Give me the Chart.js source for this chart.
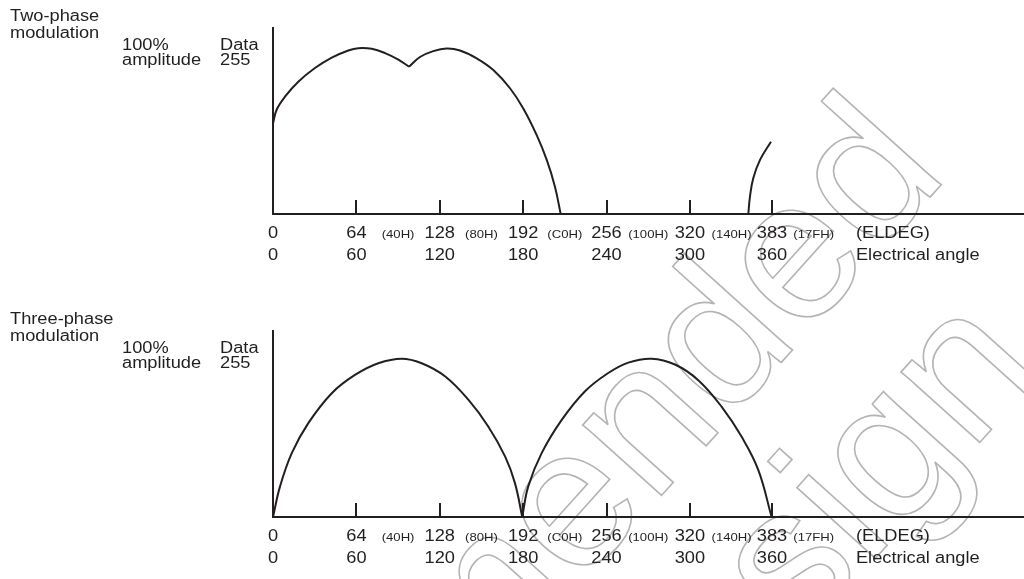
<!DOCTYPE html>
<html>
<head>
<meta charset="utf-8">
<script src="https://cdn.jsdelivr.net/npm/chart.js@4.4.0/dist/chart.umd.min.js"></script>
<style>
    body { margin: 0; background: #fff; overflow: hidden; }
    canvas { position: absolute; left: 0; }
</style>
</head>
<body>
<canvas id="two-phase" width="1024" height="290" style="top:0"></canvas>
<canvas id="three-phase" width="1024" height="289" style="top:290px"></canvas>
<script>
// ELDEG axis
var tickValues = [0, 64, 128, 192, 256, 320, 383];
var tickLabels = ['0', '64', '128', '192', '256', '320', '383'];
var hexValues = [96, 160, 224, 288, 352, 415];
var hexLabels = ['(40H)', '(80H)', '(C0H)', '(100H)', '(140H)', '(17FH)'];
var degreeLabels = ['0', '60', '120', '180', '240', '300', '360'];

// Two-phase modulation (data 0..255)
var twoRiseX = [0, 2.8, 9.2, 19.4, 32.2, 45.1, 57.8, 65.5, 75.8, 86, 96.2, 104.4];
var twoRiseY = [139, 160, 180, 203, 224, 240, 251, 254.5, 253.5, 247, 237, 226];
var twoFallX = [104.4, 112.8, 123, 133.3, 143.5, 156.3, 169.1, 181.9, 192.1, 202.4, 210.1, 216.4, 220.8];
var twoFallY = [226, 241, 250, 254, 251, 239, 221, 193, 162, 121, 83, 42, 0];
var twoTailX = [364.8, 366.1, 368.6, 373.8, 382.2];
var twoTailY = [0, 27, 55, 83, 111];

// Three-phase modulation
var threeArch1X = [0, 5.4, 14.4, 27.1, 45.1, 62.9, 80.8, 98.8, 114.1, 132, 149.9, 165.2, 178.1, 185.7, 191.3];
var threeArch1Y = [0, 47, 98, 144, 190, 218, 236, 243, 236, 216, 180, 139, 93, 52, 0];
var threeArch2X = [191.3, 195.9, 206.2, 221.6, 239.5, 257.3, 272.7, 290.6, 308.5, 326.4, 344.4, 359.7, 372.5, 382.7];
var threeArch2Y = [0, 47, 98, 149, 193, 221, 237, 243, 234, 210, 169, 123, 72, 0];

var INK = '#231f20';
var FONT = '"Liberation Sans", Arial, Helvetica, sans-serif';

function points(xs, ys) {
    return xs.map(function (x, i) { return { x: x, y: ys[i] }; });
}

function curve(xs, ys) {
    return {
        data: points(xs, ys),
        borderColor: INK,
        borderWidth: 2,
        pointRadius: 0,
        fill: false,
        tension: 0.4
    };
}

// the original lettering is a bit wider than Liberation Sans
function text(ctx, str, x, y, size, align) {
    ctx.save();
    ctx.font = size + 'px ' + FONT;
    ctx.fillStyle = INK;
    ctx.textAlign = align || 'left';
    ctx.textBaseline = 'alphabetic';
    ctx.translate(x, y);
    ctx.scale(1.14, 1);
    ctx.fillText(str, 0, 0);
    ctx.restore();
}

var watermark = {
    id: 'watermark',
    beforeDraw: function (chart, args, opts) {
        var ctx = chart.ctx;
        ctx.save();
        ctx.translate(0, -opts.offsetY);
        ctx.strokeStyle = '#b4b4b4';
        ctx.lineWidth = 1.6;
        ctx.font = '200px ' + FONT;
        ctx.textAlign = 'right';
        ctx.save();
        ctx.translate(950, 175);
        ctx.rotate(-48 * Math.PI / 180);
        ctx.strokeText('Not Recommended', 0, 0);
        ctx.restore();
        ctx.save();
        ctx.translate(1045, 370);
        ctx.rotate(-48 * Math.PI / 180);
        ctx.strokeText('for New Design', 0, 0);
        ctx.restore();
        ctx.restore();
    }
};

var axes = {
    id: 'axes',
    afterDraw: function (chart, args, opts) {
        var ctx = chart.ctx;
        var xs = chart.scales.x;
        var area = chart.chartArea;
        var x0 = xs.getPixelForValue(0);
        var base = area.bottom;

        ctx.save();
        ctx.strokeStyle = INK;
        ctx.lineWidth = 2;
        ctx.beginPath();
        ctx.moveTo(x0, area.top);
        ctx.lineTo(x0, base);
        ctx.lineTo(chart.width, base);
        ctx.stroke();

        ctx.beginPath();
        tickValues.forEach(function (v) {
            if (v === 0) return;
            var px = Math.round(xs.getPixelForValue(v));
            ctx.moveTo(px, base - 14);
            ctx.lineTo(px, base);
        });
        ctx.stroke();
        ctx.restore();

        tickValues.forEach(function (v, i) {
            var px = xs.getPixelForValue(v);
            text(ctx, tickLabels[i], px, base + 24, 16, 'center');
            text(ctx, degreeLabels[i], px, base + 46, 16, 'center');
        });
        hexValues.forEach(function (v, i) {
            text(ctx, hexLabels[i], xs.getPixelForValue(v), base + 24, 11.5, 'center');
        });
        var lx = xs.getPixelForValue(447.4);
        text(ctx, '(ELDEG)', lx, base + 24, 16, 'left');
        text(ctx, 'Electrical angle', lx, base + 46, 16, 'left');

        var top = area.top;
        text(ctx, opts.title[0], 10, top - 6, 16, 'left');
        text(ctx, opts.title[1], 10, top + 10.5, 16, 'left');
        text(ctx, '100%', 122, top + 23, 16, 'left');
        text(ctx, 'amplitude', 122, top + 38, 16, 'left');
        text(ctx, 'Data', 220, top + 23, 16, 'left');
        text(ctx, '255', 220, top + 38, 16, 'left');
    }
};

function makeChart(id, datasets, pad, title, offsetY) {
    return new Chart(document.getElementById(id).getContext('2d'), {
        type: 'line',
        data: { datasets: datasets },
        options: {
            responsive: false,
            animation: false,
            events: [],
            layout: { padding: pad },
            scales: {
                x: { type: 'linear', min: 0, max: 576.4, display: false },
                y: { min: 0, max: 287, display: false }
            },
            plugins: {
                legend: { display: false },
                tooltip: { enabled: false },
                watermark: { offsetY: offsetY },
                axes: { title: title }
            }
        },
        plugins: [watermark, axes]
    });
}

document.addEventListener('DOMContentLoaded', function () {
    makeChart('two-phase',
        [curve(twoRiseX, twoRiseY), curve(twoFallX, twoFallY), curve(twoTailX, twoTailY)],
        { left: 273, right: 0, top: 27, bottom: 76 },
        ['Two-phase', 'modulation'], 0);

    makeChart('three-phase',
        [curve(threeArch1X, threeArch1Y), curve(threeArch2X, threeArch2Y)],
        { left: 273, right: 0, top: 40, bottom: 62 },
        ['Three-phase', 'modulation'], 290);
});
</script>
</body>
</html>
